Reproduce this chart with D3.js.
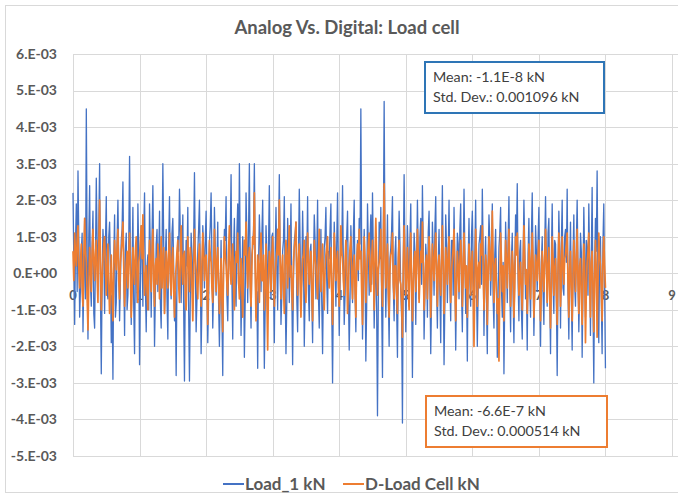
<!DOCTYPE html>
<html>
<head>
<meta charset="utf-8">
<script src="https://cdn.jsdelivr.net/npm/d3@7/dist/d3.min.js"></script>
<style>
  html, body { margin: 0; padding: 0; background: #fff; }
  svg { display: block; }
  text { font-family: Lato, "Open Sans", "Noto Sans", sans-serif; }
</style>
</head>
<body>
<svg id="chart" width="678" height="498"></svg>
<script>
// ---------------- data (values in 1E-03 kN) ----------------
const title = "Analog Vs. Digital: Load cell";
const seriesNames = ["Load_1 kN", "D-Load Cell kN"];
const sampleStep = 0.0125; // time between samples
const xTicks = [0, 1, 2, 3, 4, 5, 6, 7, 8, 9];
const yTicks = [-5, -4, -3, -2, -1, 0, 1, 2, 3, 4, 5, 6];
const yTickLabels = ["-5.E-03", "-4.E-03", "-3.E-03", "-2.E-03", "-1.E-03", "0.E+00",
                     "1.E-03", "2.E-03", "3.E-03", "4.E-03", "5.E-03", "6.E-03"];
const statsLoad1 = ["Mean: -1.1E-8 kN", "Std. Dev.: 0.001096 kN"];
const statsDLoad = ["Mean: -6.6E-7 kN", "Std. Dev.: 0.000514 kN"];

const load1 = [
  2.2, 0.3, -1.4, 0.8, 1.9, -0.5, 2.8, 0.9, -1.2, -0.4, 0.6, 1.1, -1.6, -0.2, 1.5, -0.7, 4.5, 0.5, -1.8, 1.0, 2.4, -0.3, -0.9, 0.7, 1.7, -1.1, -1.5, 0.4, 2.6, 0.9, -0.4, 1.3, 3.0, -0.6, -2.75, -0.2, 1.2, 0.6, -1.1, 0.8,
  2.1, -0.5, -0.7, 1.0, 1.4, 0.2, -1.9, -0.6, -2.9, 0.4, 1.6, -1.2, -0.8, 0.9, 2.0, 0.3, -1.3, -0.2, 0.9, 1.2, 2.5, 0.1, -1.7, 0.6, 1.1, -1.0, -0.6, 0.8, 3.2, 0.5, -1.4, 0.2, 1.8, -0.9, -2.2, 0.3, 0.7, -0.8, 1.9, 0.6,
  -2.5, -0.4, 1.3, 0.7, -0.9, 1.1, 2.2, -0.3, -1.6, 0.2, 0.5, -1.0, 1.9, 0.6, -1.2, 1.0, 2.4, 0.4, -2.0, -0.6, 0.8, 1.2, -0.5, 0.3, 1.7, -0.8, -1.5, 0.5, 3.0, 0.9, -1.1, 0.4, 1.2, -0.7, -1.8, 0.8, 2.1, -0.2, -0.7, 1.1,
  1.5, 0.2, -1.3, -0.5, -2.8, -0.1, 1.0, 0.6, 2.3, 1.1, -0.8, 0.4, 1.6, -0.9, -2.95, -0.3, 0.9, 0.2, 1.8, -1.0, -2.95, -0.6, 1.1, 0.5, -1.0, 0.8, 2.75, 0.3, -1.6, -0.7, 0.6, 1.2, 2.0, 0.1, -2.2, -0.8, 1.3, 0.7, -0.4, 0.9,
  1.7, -0.2, -1.9, -0.7, 0.8, 1.3, 2.2, 0.4, -1.5, -0.4, 1.8, 0.7, -0.6, 0.2, 1.4, -0.8, -2.0, -0.5, 0.9, -1.1, -2.8, 0.3, 1.2, 0.9, 2.1, -0.6, -1.3, 0.1, 0.5, 1.0, 2.7, -0.2, -1.8, 0.6, 1.5, -0.4, -0.9, 1.1, 1.9, -0.3,
  3.0, 0.6, -1.7, -0.3, 1.0, 0.4, -2.3, -0.7, 2.2, 0.9, -0.8, 1.1, 3.0, -0.2, -1.5, 0.5, 0.7, 1.2, 3.0, 0.3, -1.2, -0.5, -2.6, 0.2, 1.6, 0.8, -0.5, 1.0, 2.0, -0.4, -2.6, -0.9, 1.3, 0.5, -1.1, 0.7, 2.4, -0.1, -0.7, 1.0,
  1.1, -0.4, -1.9, 0.5, 1.8, 0.2, -1.0, 1.0, 2.7, 0.4, -1.4, -0.6, 0.6, 0.9, 2.1, -0.3, -2.2, -0.8, 1.5, 0.6, -0.8, 0.3, 1.9, -0.5, -2.5, -0.2, 0.9, 1.1, 1.4, -0.7, -1.6, 0.4, 2.3, 0.8, -0.6, -0.2, 1.7, 0.5, -2.0, -0.6,
  1.0, 0.3, 2.1, -0.5, -1.3, 0.6, 0.8, -0.7, -1.9, 0.2, 1.6, 0.9, -0.7, 0.4, 2.0, -0.6, -1.5, 0.1, 1.2, -0.8, -2.2, -0.3, 0.7, 1.0, 1.8, -0.2, -1.1, 0.6, 0.4, 1.2, 1.9, -0.9, -3.0, -0.4, 1.4, 0.5, -0.9, 0.8, 2.2, 0.1,
  -1.7, -0.3, 1.1, 0.5, 2.4, 0.2, -1.4, -0.6, 0.6, 1.0, 1.7, -0.4, -2.1, -0.7, 1.3, 0.4, -0.8, 1.1, 2.0, -0.5, -1.6, 0.3, 0.9, -0.2, 1.5, 0.8, 4.5, 0.6, -1.8, -0.4, 1.2, 0.2, -2.4, -0.9, 1.9, 0.7, -0.6, 0.9, 1.6, -0.3,
  2.2, 0.5, -1.5, -0.3, 0.8, -1.0, -3.9, -0.6, 1.4, 0.4, 1.8, -0.8, -2.85, 0.9, 4.7, 0.7, -1.2, 0.2, 1.6, -0.6, -2.0, 0.4, 0.7, 1.2, 2.1, -0.4, -1.3, 0.5, 1.0, -0.9, -2.3, 0.2, 1.7, 0.8, -0.5, -1.2, -4.1, 0.3, 2.7, 0.6,
  -1.6, -0.2, 1.3, 0.4, -0.9, 0.9, 1.9, -0.5, -2.85, -0.4, 1.1, 0.6, -1.4, 0.2, 2.0, 0.5, -0.7, 1.0, 1.5, -0.3, 2.4, 0.7, -1.8, -0.6, 0.8, 0.3, -1.2, 1.1, 1.7, -0.2, -2.2, -0.7, 1.4, 0.6, -0.6, 1.2, 2.1, -0.4, -1.5, 0.3,
  1.2, -0.5, -1.9, 0.6, 2.4, 0.1, -2.5, -0.8, 1.6, 0.7, -0.8, 0.5, 2.0, -0.3, -1.3, 0.9, 0.9, -0.6, 1.8, 0.2, -2.1, -0.4, 1.1, 0.8, -0.7, 1.2, 1.9, -0.5, -1.6, 0.3, 2.3, 0.6, -1.1, -0.3, -2.4, 0.4, 1.5, -0.2, -0.9, 1.0,
  1.7, 0.3, -1.4, 0.5, 2.0, -0.4, -2.0, -0.5, 0.8, 1.0, 1.3, -0.3, 2.3, 0.6, -1.7, 0.2, 1.0, -0.8, -2.2, 0.4, 1.6, 0.9, -0.6, 0.3, 1.9, -0.7, -1.5, 0.5, 1.2, -0.2, -2.3, -0.5, 0.7, 1.1, 1.8, -0.4, -1.2, 0.3, -2.75, -0.6,
  1.4, 0.5, -0.8, 0.9, 2.1, -0.3, -1.6, 0.4, 1.1, -0.6, -1.9, 0.2, 1.6, 0.8, 2.45, -0.2, -1.3, 0.6, 0.9, -1.0, -1.8, 0.3, 2.0, 0.7, -0.7, -0.3, -2.1, 0.5, 1.5, -0.4, -1.2, 1.0, 2.2, 0.1, -1.7, -0.5, 1.3, 0.6, -0.5, 0.9,
  1.8, -0.4, -2.0, 0.3, 1.0, -0.5, -1.4, 0.7, 2.1, 0.2, -0.9, 1.1, 1.5, -0.6, -2.2, 0.4, 1.9, -0.3, -1.1, 0.9, 0.8, -0.7, -2.8, -0.2, 1.7, 0.5, -1.5, 0.8, 2.0, -0.4, -0.6, 1.0, 1.2, 0.3, 2.3, -0.5, -1.8, 0.2, 1.4, -0.6,
  -2.1, 0.4, 1.6, -0.3, -0.9, 0.8, 2.0, 0.2, -1.6, -0.5, 1.1, 0.6, -2.3, -0.4, 1.8, 0.5, -1.2, 0.9, 0.7, -0.6, 1.9, 0.3, -1.7, 0.4, 2.35, -0.8, -3.0, 0.2, 1.5, 0.6, 2.8, -0.3, -1.9, 0.5, 1.0, -0.7, -2.2, 0.8, 1.9, -0.4, -2.6
];

const dLoad = [
  0.6, -0.2, 1.1, 0.5, 0.2, 0.9, 1.3, 0.1, -0.4, 0.3, 0.8, -0.5, -0.9, 0.4, 1.5, 0.6, 0.3, -0.7, -1.55, -0.3, 0.7, 0.2, -0.5, 0.6, 1.2, 0.3, -0.2, 0.5, 0.9, -0.1, -0.8, 0.7, 2.0, 0.4, -1.0, -0.2, 0.4, 0.8, 1.0, 0.1,
  -0.6, 0.2, 0.8, -0.3, -1.1, -0.4, 0.5, -0.6, -1.3, 0.1, 0.9, 0.4, 0.1, 0.7, 1.2, -0.2, -0.7, 0.3, 0.6, 0.9, 1.4, 0.2, -0.9, -0.3, 0.3, 0.6, -0.4, 0.5, 1.1, 0.0, -1.2, -0.5, 0.7, 0.2, -0.3, 0.6, 1.0, -0.1, -0.8, 0.3,
  0.5, 0.9, 1.3, 0.4, 1.6, 0.2, -0.6, -0.1, 0.2, -0.5, -1.0, 0.3, 0.9, 0.1, -0.5, 0.6, 1.2, -0.2, -0.9, 0.2, 0.4, -0.3, 0.8, 0.5, -0.7, 0.1, 1.0, -0.4, 0.3, 0.7, -1.1, -0.3, 0.6, 0.2, -0.4, 0.5, 1.1, 0.0, -0.6, 0.4,
  0.7, -0.4, -1.2, -0.2, 0.2, 0.6, 0.9, -0.3, -0.8, 0.4, 1.3, 0.2, -0.3, 0.5, 0.6, -0.6, -1.0, 0.1, 1.0, 0.3, -0.5, 0.7, 0.4, -0.4, -1.3, -0.1, 1.2, 0.5, 0.1, -0.3, -0.7, 0.4, 0.8, -0.2, -0.9, 0.3, 1.1, 0.6, -0.2, 0.4,
  0.5, -0.3, -1.4, 0.1, 0.9, 0.5, 0.3, -0.4, -0.8, 0.2, 1.2, 0.4, -0.5, 0.3, 0.7, -0.2, -1.1, -0.5, 0.4, -0.7, -1.6, 0.2, 1.0, 0.5, 0.2, -0.3, -0.6, 0.6, 1.3, 0.1, -0.3, 0.4, 0.8, -0.4, -1.0, 0.2, 0.6, 0.3, 1.1, -0.2,
  -0.7, -0.1, 0.4, -0.5, -1.2, 0.2, 0.9, 0.5, 1.4, 0.3, -0.4, 0.4, 0.7, -0.3, -0.9, 0.2, 1.0, 0.8, 2.2, 0.1, -1.3, -0.4, 0.5, 0.2, -0.8, 0.4, 1.1, -0.2, -0.2, 0.5, -1.0, -0.3, 0.8, -0.6, -2.1, -0.2, 0.6, 0.3, -0.5, 0.4,
  1.0, 0.2, -0.9, -0.2, 0.3, 0.6, 1.2, 0.5, 2.0, 0.3, -0.7, 0.1, 0.5, -0.4, -1.1, 0.2, 0.9, 0.4, -0.4, 0.6, 1.3, -0.1, 0.2, -0.5, -1.0, 0.3, 0.7, 0.9, 1.4, 0.0, -0.6, 0.4, 0.8, -0.3, -1.2, -0.2, 0.4, 0.5, 0.9, -0.3,
  -0.8, 0.3, 1.1, 0.4, -0.3, 0.2, 0.6, -0.5, -1.3, -0.1, 0.9, 0.5, 0.2, -0.3, -0.7, 0.4, 1.2, 0.2, -0.5, 0.3, 0.8, -0.2, -1.0, 0.1, 0.5, 0.7, 1.0, -0.1, -0.4, 0.4, 0.7, -0.5, -1.4, -0.2, 1.1, 0.5, -0.2, 0.3, 0.6, -0.4,
  -0.9, 0.1, 1.3, 0.6, 0.4, -0.2, -0.6, 0.3, 0.9, 0.2, -1.1, -0.3, 0.3, 0.7, 1.0, -0.2, -0.7, 0.2, 0.5, -0.4, -1.2, 0.3, 0.8, 0.1, 1.2, 0.4, 0.6, -0.5, -1.4, 0.2, 1.0, 0.3, -0.8, -0.1, 0.4, 0.8, 1.1, -0.2, -0.5, 0.4,
  0.9, 0.2, -1.0, 0.4, 1.5, 0.3, -0.6, 0.1, 0.3, 0.7, 1.2, -0.2, -0.9, 0.8, 2.45, 0.5, -0.4, 0.3, 0.8, -0.5, -1.2, 0.1, 0.5, 0.6, 1.1, -0.3, -0.7, 0.2, 0.2, -0.5, -1.1, 0.4, 0.9, -0.2, -0.3, -0.8, -1.75, 0.2, 1.3, 0.4,
  -0.6, 0.1, 0.7, -0.4, -1.0, 0.3, 1.1, -0.2, -1.3, -0.3, 0.4, 0.6, -0.5, 0.2, 1.2, 0.5, -0.8, -0.1, 0.6, 0.3, 1.4, 0.2, -1.0, -0.4, 0.3, 0.5, -0.7, 0.1, 1.0, 0.4, -1.2, -0.2, 0.8, 0.3, -0.2, 0.6, 1.1, 0.0, -0.9, 0.2,
  0.5, -0.2, -0.6, 0.4, 1.3, 0.2, -1.1, -0.3, 0.7, 0.3, -0.3, 0.5, 1.0, -0.2, -0.8, 0.1, 0.4, 0.7, 1.2, -0.1, -1.3, -0.4, 0.6, 0.2, -0.5, 0.3, 0.9, 0.4, -0.9, -0.1, 1.1, 0.3, -0.4, 0.2, -1.2, -0.3, 0.8, 0.4, -0.6, 0.2,
  0.6, -0.5, -2.0, -0.3, 1.2, 0.4, -0.9, 0.1, 0.3, -0.4, 0.8, 0.5, 1.3, 0.2, -1.0, -0.3, 0.5, 0.2, -1.4, -0.1, 1.0, 0.6, -0.2, 0.4, 1.7, 0.3, -0.8, 0.2, 0.4, -0.5, -1.1, -0.7, -2.4, -0.4, 1.1, 0.3, -0.5, 0.2, -1.3, -0.2,
  0.9, 0.3, -0.4, 0.5, 1.2, 0.1, -0.9, -0.2, 0.6, 0.2, -1.2, -0.4, 1.0, 0.5, 1.1, 0.2, -0.6, -0.1, 0.3, -0.5, -1.0, 0.2, 1.3, 0.4, -0.3, 0.1, -1.1, -0.3, 0.8, 0.4, -0.7, 0.2, 1.1, 0.3, -1.2, -0.4, 0.5, 0.2, -0.2, 0.5,
  0.9, -0.2, -1.3, -0.4, 0.6, 0.1, -0.5, 0.4, 1.2, 0.3, -0.8, 0.2, 0.7, -0.6, -1.5, -0.3, 1.0, 0.4, -0.6, 0.1, 0.4, -0.5, -1.4, 0.2, 1.1, 0.5, -0.9, -0.2, 1.0, 0.3, -0.3, 0.4, 0.5, 0.8, 1.1, -0.3, -1.2, 0.1, 0.6, -0.4,
  -1.3, -0.2, 0.9, 0.3, -0.5, 0.4, 1.2, -0.3, -1.1, 0.2, 0.4, -0.6, -1.4, -0.1, 0.8, 0.2, -1.9, -0.5, 0.3, 0.6, 1.1, -0.2, -1.2, 0.3, 0.6, -0.4, -1.6, -0.2, 0.9, 0.1, -1.75, -0.3, 1.1, 0.5, 0.2, -0.4, -1.3, 0.3, 1.0, 0.2, -0.4
];

// ---------------- drawing ----------------
const colors = { blue: "#4472C4", orange: "#ED7D31", grid: "#d9d9d9", text: "#595959" };
const svg = d3.select("#chart");

svg.append("rect").attr("x", 5.5).attr("y", 5.5).attr("width", 690).attr("height", 487)
  .attr("fill", "#fff").attr("stroke", "#d9d9d9");

const x = d3.scaleLinear().domain([0, 9]).range([73, 672]);
const y = d3.scaleLinear().domain([-5, 6]).range([456, 54]);

// gridlines
svg.append("g").selectAll("line").data(yTicks).join("line")
  .attr("x1", x(0)).attr("x2", 678).attr("y1", d => Math.round(y(d)) + 0.5).attr("y2", d => Math.round(y(d)) + 0.5)
  .attr("stroke", colors.grid).attr("stroke-width", 1);
svg.append("g").selectAll("line").data(xTicks).join("line")
  .attr("x1", d => Math.round(x(d)) + 0.5).attr("x2", d => Math.round(x(d)) + 0.5)
  .attr("y1", y(6)).attr("y2", y(-5))
  .attr("stroke", colors.grid).attr("stroke-width", 1);

// y axis labels
svg.append("g").selectAll("text").data(yTicks).join("text")
  .attr("x", 57).attr("y", d => y(d)).attr("dy", "0.35em")
  .attr("text-anchor", "end").attr("font-size", 14).attr("font-weight", "bold")
  .attr("fill", colors.text).text((d, i) => yTickLabels[i]);

// x axis labels (sit just below the zero line, beneath the series)
svg.append("g").selectAll("text").data(xTicks).join("text")
  .attr("x", d => x(d)).attr("y", y(0) + 22).attr("dy", "0.35em")
  .attr("text-anchor", "middle").attr("font-size", 13).attr("font-weight", "bold")
  .attr("fill", colors.text).text(d => d);

// series
const line = d3.line().x((d, i) => x(i * sampleStep)).y(d => y(d));
svg.append("path").datum(load1).attr("d", line)
  .attr("fill", "none").attr("stroke", colors.blue).attr("stroke-width", 1.3).attr("stroke-linejoin", "round");
svg.append("path").datum(dLoad).attr("d", line)
  .attr("fill", "none").attr("stroke", colors.orange).attr("stroke-width", 1.7).attr("stroke-linejoin", "round");

// title
svg.append("text").attr("x", 347).attr("y", 28).attr("dy", "0.35em")
  .attr("text-anchor", "middle").attr("font-size", 18.5).attr("font-weight", "bold")
  .attr("fill", colors.text).text(title);

// stat boxes
function statBox(bx, by, w, h, stroke, lines) {
  const g = svg.append("g");
  g.append("rect").attr("x", bx).attr("y", by).attr("width", w).attr("height", h)
    .attr("fill", "#fff").attr("stroke", stroke).attr("stroke-width", 2);
  g.selectAll("text").data(lines).join("text")
    .attr("x", bx + 8).attr("y", (d, i) => by + 15 + i * 19.5).attr("dy", "0.35em")
    .attr("font-size", 14.3).attr("fill", "#404040").text(d => d);
}
statBox(425, 62, 179, 51, "#2E75B6", statsLoad1);
statBox(426, 396, 181, 51, colors.orange, statsDLoad);

// legend
const legend = svg.append("g");
const legendItems = [
  { name: seriesNames[0], color: colors.blue, x: 223 },
  { name: seriesNames[1], color: colors.orange, x: 343 }
];
legendItems.forEach(it => {
  legend.append("line").attr("x1", it.x).attr("x2", it.x + 21).attr("y1", 484).attr("y2", 484)
    .attr("stroke", it.color).attr("stroke-width", 2);
  legend.append("text").attr("x", it.x + 22).attr("y", 484).attr("dy", "0.35em")
    .attr("font-size", 17).attr("font-weight", "bold").attr("fill", colors.text).text(it.name);
});
</script>
</body>
</html>
